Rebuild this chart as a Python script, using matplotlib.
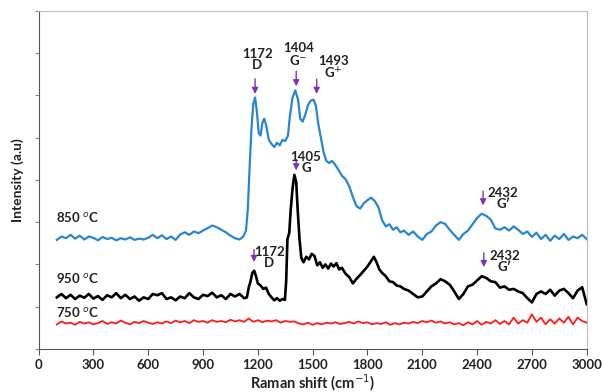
import matplotlib
matplotlib.use("Agg")
import matplotlib.pyplot as plt

# Raman spectra (offset traces, arbitrary units)
x_850 = [100, 125, 150, 175, 200, 225, 250, 275, 300, 325, 350, 375, 400, 425, 450, 475, 500, 525, 550, 575,
         600, 625, 650, 675, 700, 725, 750, 775, 800, 825, 850, 875, 900, 925, 950, 975, 1000, 1025, 1050, 1075,
         1100, 1120, 1135, 1145, 1155, 1165, 1175, 1185, 1195, 1205, 1215, 1225, 1235, 1245, 1260, 1275, 1290,
         1305, 1320, 1335, 1350, 1365, 1375, 1390, 1405, 1420, 1432, 1445, 1460, 1475, 1490, 1505, 1518, 1530,
         1545, 1560, 1575, 1590, 1605, 1620, 1640, 1660, 1680, 1700, 1720, 1740, 1760, 1780, 1800, 1820, 1840,
         1860, 1880, 1900, 1920, 1940, 1960, 1980, 2000, 2025, 2050, 2075, 2100, 2125, 2150, 2175, 2200, 2225,
         2250, 2275, 2300, 2325, 2350, 2375, 2400, 2425, 2450, 2475, 2500, 2525, 2550, 2575, 2600, 2625, 2650,
         2675, 2700, 2725, 2750, 2775, 2800, 2825, 2850, 2875, 2900, 2925, 2950, 2975, 3000]
y_850 = [2.58, 2.66, 2.62, 2.70, 2.61, 2.68, 2.59, 2.66, 2.63, 2.57, 2.65, 2.60, 2.63, 2.57, 2.62, 2.59, 2.64, 2.58, 2.61, 2.59,
         2.63, 2.70, 2.62, 2.69, 2.60, 2.66, 2.58, 2.71, 2.76, 2.70, 2.78, 2.74, 2.80, 2.86, 2.92, 2.88, 2.82, 2.76, 2.68, 2.62,
         2.59, 2.66, 2.80, 3.30, 4.30, 5.20, 5.80, 5.95, 5.60, 5.10, 5.05, 5.35, 5.45, 5.30, 4.95, 4.85, 4.78,
         4.88, 4.82, 4.95, 4.92, 5.05, 5.50, 5.95, 6.12, 5.90, 5.45, 5.38, 5.55, 5.78, 5.88, 5.90, 5.75, 5.35,
         5.00, 4.65, 4.45, 4.40, 4.45, 4.38, 4.25, 4.10, 4.02, 3.85, 3.60, 3.38, 3.32, 3.45, 3.52, 3.58, 3.50,
         3.35, 3.05, 2.90, 2.95, 2.82, 2.88, 2.76, 2.80, 2.70, 2.78, 2.66, 2.58, 2.72, 2.78, 2.92, 3.00, 2.96,
         2.82, 2.70, 2.58, 2.72, 2.80, 2.95, 3.10, 3.20, 3.15, 3.06, 2.85, 2.82, 2.88, 2.80, 2.90, 2.82, 2.72,
         2.78, 2.65, 2.75, 2.60, 2.70, 2.56, 2.68, 2.60, 2.72, 2.58, 2.66, 2.62, 2.70, 2.60]

x_950 = [100, 125, 150, 175, 200, 225, 250, 275, 300, 325, 350, 375, 400, 425, 450, 475, 500, 525, 550, 575,
         600, 625, 650, 675, 700, 725, 750, 775, 800, 825, 850, 875, 900, 925, 950, 975, 1000, 1025, 1050, 1075,
         1100, 1125, 1140, 1150, 1160, 1170, 1180, 1190, 1200, 1215, 1230, 1245, 1260, 1275, 1290, 1305, 1320,
         1335, 1348, 1355, 1362, 1372, 1380, 1390, 1400, 1410, 1418, 1428, 1438, 1450, 1465, 1480, 1495, 1510,
         1525, 1540, 1555, 1570, 1585, 1600, 1615, 1630, 1645, 1660, 1680, 1700, 1720, 1740, 1760, 1780, 1800,
         1820, 1835, 1850, 1865, 1880, 1900, 1920, 1940, 1960, 1980, 2000, 2025, 2050, 2075, 2100, 2125, 2150,
         2175, 2200, 2225, 2250, 2275, 2300, 2325, 2350, 2375, 2400, 2425, 2450, 2475, 2500, 2525, 2550, 2575,
         2600, 2625, 2650, 2675, 2700, 2725, 2750, 2775, 2800, 2825, 2850, 2875, 2900, 2925, 2950, 2975, 3000]
y_950 = [1.22, 1.30, 1.20, 1.28, 1.18, 1.26, 1.21, 1.30, 1.19, 1.25, 1.16, 1.27, 1.22, 1.32, 1.20, 1.28, 1.18, 1.24, 1.14, 1.22,
         1.18, 1.30, 1.27, 1.32, 1.18, 1.22, 1.15, 1.24, 1.20, 1.32, 1.22, 1.18, 1.28, 1.25, 1.33, 1.22, 1.27, 1.18, 1.30, 1.24,
         1.30, 1.20, 1.22, 1.45, 1.60, 1.80, 1.85, 1.72, 1.55, 1.50, 1.42, 1.45, 1.30, 1.22, 1.15, 1.20, 1.14,
         1.18, 1.16, 1.60, 2.60, 2.75, 3.30, 3.80, 4.12, 3.95, 3.30, 2.60, 2.15, 2.05, 2.18, 2.12, 2.25, 2.20,
         1.98, 2.05, 1.92, 2.00, 1.90, 2.02, 1.95, 2.03, 1.88, 1.92, 1.78, 1.70, 1.55, 1.66, 1.75, 1.85, 1.95,
         2.08, 2.18, 2.05, 1.88, 1.80, 1.72, 1.60, 1.58, 1.50, 1.48, 1.42, 1.38, 1.30, 1.22, 1.24, 1.36, 1.48,
         1.55, 1.65, 1.60, 1.52, 1.36, 1.18, 1.30, 1.48, 1.52, 1.62, 1.72, 1.68, 1.60, 1.58, 1.45, 1.48, 1.40,
         1.42, 1.36, 1.32, 1.20, 1.10, 1.30, 1.36, 1.30, 1.40, 1.26, 1.38, 1.42, 1.32, 1.20, 1.38, 1.46, 1.06]

x_750 = list(range(100, 3001, 25))
y_750 = [0.58, 0.65, 0.60, 0.62, 0.57, 0.64, 0.60, 0.63, 0.58, 0.61, 0.66, 0.59, 0.63, 0.60, 0.67, 0.62, 0.58, 0.64,
         0.61, 0.66, 0.62, 0.59, 0.63, 0.60, 0.65, 0.61, 0.67, 0.63, 0.66, 0.61, 0.68, 0.64, 0.66, 0.62, 0.68, 0.64,
         0.66, 0.63, 0.69, 0.65, 0.68, 0.64, 0.72, 0.64, 0.68, 0.63, 0.67, 0.65, 0.68, 0.62, 0.66, 0.64, 0.65, 0.60,
         0.58, 0.62, 0.57, 0.61, 0.58, 0.62, 0.60, 0.63, 0.59, 0.61, 0.64, 0.60, 0.65, 0.61, 0.63, 0.58, 0.61, 0.59,
         0.63, 0.57, 0.61, 0.58, 0.62, 0.60, 0.64, 0.61, 0.66, 0.63, 0.67, 0.62, 0.65, 0.60, 0.63, 0.58, 0.61, 0.56,
         0.63, 0.58, 0.66, 0.57, 0.64, 0.60, 0.68, 0.59, 0.66, 0.58, 0.74, 0.60, 0.68, 0.62, 0.82, 0.64, 0.74, 0.58,
         0.70, 0.60, 0.72, 0.62, 0.76, 0.58, 0.74, 0.66, 0.62]

# peak annotations: label, arrow x, arrow top, arrow tip, text centre
peak_labels = ["1172\nD", "1404\nG$^{-}$", "1493\nG$^{+}$", "1405\nG", "2432\nG\u2032", "1172\nD", "2432\nG\u2032"]
peak_x = [1185, 1410, 1522, 1410, 2433, 1179, 2437]
arrow_top = [6.46, 6.64, 6.45, 4.55, 3.80, 2.42, 2.34]
arrow_tip = [5.97, 6.15, 5.97, 4.16, 3.33, 1.99, 1.87]
text_x = [1196, 1421, 1612, 1463, 2543, 1262, 2550]
text_y = [6.85, 6.97, 6.64, 4.42, 3.57, 2.16, 2.06]

series_labels = ["850 $^{o}$C", "950 $^{o}$C", "750 $^{o}$C"]
series_label_y = [3.13, 1.67, 0.88]

plt.rcParams['font.family'] = ['Lato', 'DejaVu Sans']

fig = plt.figure(figsize=(6.03, 3.92), dpi=100)
ax = fig.add_axes([0.064, 0.110, 0.909, 0.862])

ax.plot(x_850, y_850, color='#2a86cc', lw=1.6)
ax.plot(x_950, y_950, color='black', lw=1.9)
ax.plot(x_750, y_750, color='#ff1a1a', lw=1.3)

purple = '#7a35b5'
for lab, px, top, tip, tx, ty in zip(peak_labels, peak_x, arrow_top, arrow_tip, text_x, text_y):
    ax.annotate('', xy=(px, tip), xytext=(px, top),
                arrowprops=dict(arrowstyle='-|>', color=purple, lw=1.0, mutation_scale=9))
    ax.text(tx, ty, lab, ha='center', va='center', fontsize=9.5, fontweight='bold',
            color='#222222', linespacing=0.9)

for lab, ly in zip(series_labels, series_label_y):
    ax.text(95, ly, lab, ha='left', va='center', fontsize=9.5, fontweight='bold', color='#222222')

ax.set_xlim(0, 3000)
ax.set_ylim(0, 8)
ax.set_xticks(range(0, 3001, 300))
ax.set_yticks(range(0, 9))
ax.set_yticklabels([])
ax.tick_params(axis='x', labelsize=9.5, length=4, color='#555555', pad=3)
ax.tick_params(axis='y', length=3, color='#888888')
for lbl in ax.get_xticklabels():
    lbl.set_fontweight('bold')
    lbl.set_color('#222222')
ax.spines['left'].set_color('#555555')
ax.spines['bottom'].set_color('#555555')
ax.spines['top'].set_color('#bbbbbb')
ax.spines['right'].set_color('#bbbbbb')

ax.set_xlabel('Raman shift (cm$^{-1}$)', fontsize=10.5, fontweight='bold', color='#222222', labelpad=1)
ax.set_ylabel('Intensity (a.u)', fontsize=10, fontweight='bold', color='#222222', labelpad=4)

fig.savefig('out.png', dpi=100)
